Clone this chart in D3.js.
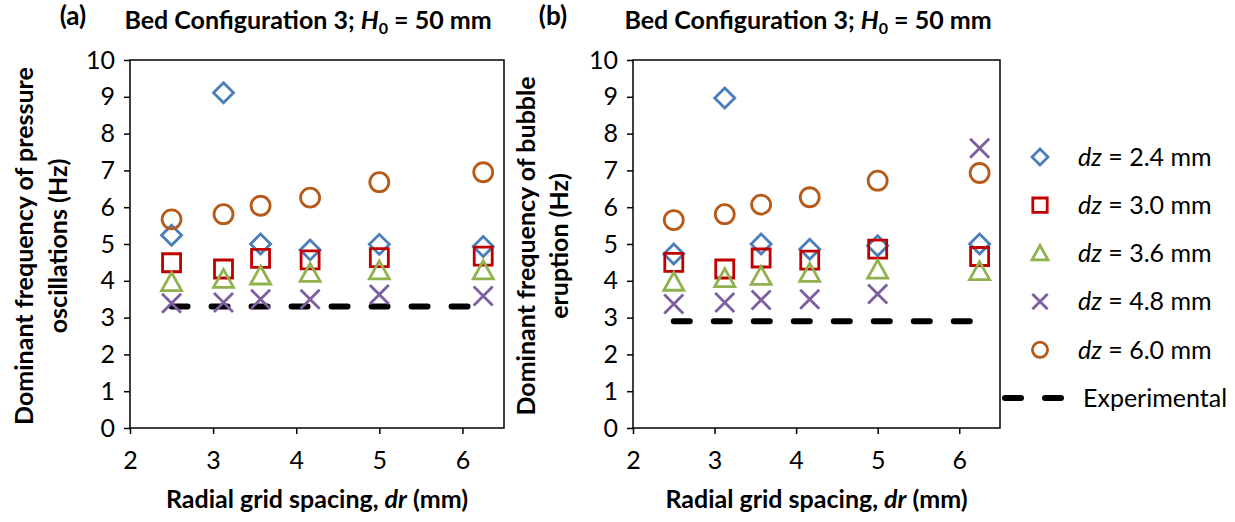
<!DOCTYPE html>
<html>
<head>
<meta charset="utf-8">
<script src="https://cdn.jsdelivr.net/npm/d3@7"></script>
<style>
    body { margin: 0; background: #fff; }
    svg text { font-family: Lato, "Open Sans", sans-serif; fill: #000; }
</style>
</head>
<body>
<div id="container"></div>
<script>
// Dominant frequency vs radial grid spacing, two panels + shared legend

const drValues = [2.5, 3.125, 3.571, 4.167, 5, 6.25]
const dzLabels = ["2.4", "3.0", "3.6", "4.8", "6.0"]

// (a) pressure oscillations
const pressDz24 = [5.24, 9.11, 5.0, 4.84, 4.99, 4.93]
const pressDz30 = [4.49, 4.32, 4.61, 4.57, 4.63, 4.67]
const pressDz36 = [3.95, 4.04, 4.13, 4.2, 4.27, 4.27]
const pressDz48 = [3.39, 3.41, 3.5, 3.5, 3.63, 3.59]
const pressDz60 = [5.67, 5.81, 6.04, 6.26, 6.68, 6.95]
const pressExperimental = 3.3

// (b) bubble eruption
const bubbleDz24 = [4.73, 8.97, 5.0, 4.86, 4.95, 5.0]
const bubbleDz30 = [4.5, 4.32, 4.62, 4.56, 4.86, 4.66]
const bubbleDz36 = [3.96, 4.06, 4.12, 4.2, 4.29, 4.25]
const bubbleDz48 = [3.37, 3.41, 3.48, 3.5, 3.64, 7.6]
const bubbleDz60 = [5.65, 5.81, 6.07, 6.27, 6.72, 6.93]
const bubbleExperimental = 2.9

const xTicks = [2, 3, 4, 5, 6]
const yTicks = [0, 1, 2, 3, 4, 5, 6, 7, 8, 9, 10]

const width = 1235,
    height = 522
const fs = 25

const svg = d3.select("#container")
    .append("svg")
    .attr("width", width)
    .attr("height", height)

// marker shapes (size = half width)
const diamond = { draw(c, r) { c.moveTo(0, -r); c.lineTo(r, 0); c.lineTo(0, r); c.lineTo(-r, 0); c.closePath() } }
const square = { draw(c, r) { c.rect(-r, -r, 2 * r, 2 * r) } }
const triangle = { draw(c, r) { c.moveTo(0, -r); c.lineTo(r, 0.8 * r); c.lineTo(-r, 0.8 * r); c.closePath() } }
const times = { draw(c, r) { c.moveTo(-r, -r); c.lineTo(r, r); c.moveTo(r, -r); c.lineTo(-r, r) } }
const circle = { draw(c, r) { c.moveTo(r, 0); c.arc(0, 0, r, 0, 2 * Math.PI) } }

const markers = [
    { shape: diamond, size: 10, color: "#4A7EBB" },
    { shape: square, size: 9, color: "#C00000" },
    { shape: triangle, size: 10, color: "#8FB24F" },
    { shape: times, size: 9.5, color: "#7D5FA0" },
    { shape: circle, size: 9.5, color: "#B65A18" },
]

const panels = [
    {
        letter: "(a)", letterX: 73, left: 130, right: 504, titleX: 308,
        yTitle: ["Dominant frequency of pressure", "oscillations (Hz)"], yTitleX: [33, 67],
        series: [pressDz24, pressDz30, pressDz36, pressDz48, pressDz60],
        experimental: pressExperimental,
    },
    {
        letter: "(b)", letterX: 553, left: 633, right: 1000, titleX: 808,
        yTitle: ["Dominant frequency of bubble", "eruption (Hz)"], yTitleX: [535, 568],
        series: [bubbleDz24, bubbleDz30, bubbleDz36, bubbleDz48, bubbleDz60],
        experimental: bubbleExperimental,
    },
]

const plotTop = 60, plotBottom = 428

const yScale = d3.scaleLinear().domain([0, 10]).range([plotBottom, plotTop])

panels.forEach(p => {
    const xScale = d3.scaleLinear().domain([2, 6.5]).range([p.left, p.right])
    const g = svg.append("g")

    // titles
    g.append("text")
        .attr("x", p.letterX).attr("y", 25)
        .attr("text-anchor", "middle")
        .attr("font-size", 26).attr("font-weight", "bold")
        .text(p.letter)
    const title = g.append("text")
        .attr("x", p.titleX).attr("y", 29)
        .attr("text-anchor", "middle")
        .attr("font-size", fs).attr("font-weight", "bold")
    title.append("tspan").text("Bed Configuration 3; ")
    title.append("tspan").attr("font-style", "italic").text("H")
    title.append("tspan").attr("font-size", 16).attr("dy", 5).text("0")
    title.append("tspan").attr("dy", -5).text(" = 50 mm")

    // plot box
    g.append("rect")
        .attr("x", p.left).attr("y", plotTop)
        .attr("width", p.right - p.left).attr("height", plotBottom - plotTop)
        .attr("fill", "none").attr("stroke", "#000").attr("stroke-width", 1.5)

    const yAxis = d3.axisLeft(yScale).tickValues(yTicks).tickSize(6).tickSizeOuter(0).tickPadding(9)
    const yg = g.append("g").attr("transform", `translate(${p.left},0)`).call(yAxis)
    yg.select(".domain").remove()
    yg.selectAll("line").attr("stroke-width", 1.5)
    yg.selectAll("text").attr("font-size", fs).style("font-family", "Lato, sans-serif").attr("fill", "#222")

    const xAxis = d3.axisBottom(xScale).tickValues(xTicks).tickFormat(d3.format("d"))
        .tickSize(6).tickSizeOuter(0).tickPadding(17)
    const xg = g.append("g").attr("transform", `translate(0,${plotBottom})`).call(xAxis)
    xg.select(".domain").remove()
    xg.selectAll("line").attr("stroke-width", 1.5)
    xg.selectAll("text").attr("font-size", fs).style("font-family", "Lato, sans-serif").attr("fill", "#222")

    // axis titles
    const xt = g.append("text")
        .attr("x", (p.left + p.right) / 2).attr("y", 508)
        .attr("text-anchor", "middle")
        .attr("font-size", fs).attr("font-weight", "bold")
    xt.append("tspan").text("Radial grid spacing, ")
    xt.append("tspan").attr("font-style", "italic").text("dr")
    xt.append("tspan").text(" (mm)")

    p.yTitle.forEach((line, i) => {
        g.append("text")
            .attr("transform", `translate(${p.yTitleX[i]},${(plotTop + plotBottom) / 2 + 2}) rotate(-90)`)
            .attr("text-anchor", "middle")
            .attr("font-size", fs).attr("font-weight", "bold")
            .text(line)
    })

    // experimental dashed line
    const [x0, x1] = d3.extent(drValues)
    g.append("path")
        .datum([x0, x1])
        .attr("d", d3.line().x(d => xScale(d)).y(() => yScale(p.experimental)))
        .attr("fill", "none").attr("stroke", "#000")
        .attr("stroke-width", 6).attr("stroke-linecap", "round")
        .attr("stroke-dasharray", "16,24")

    // markers
    p.series.forEach((vals, si) => {
        const m = markers[si]
        g.append("g")
            .selectAll("path")
            .data(vals.map((v, i) => ({ dr: drValues[i], f: v })))
            .enter()
            .append("path")
            .attr("transform", d => `translate(${xScale(d.dr)},${yScale(d.f)})`)
            .attr("d", d3.symbol().type(m.shape).size(m.size))
            .attr("fill", "none")
            .attr("stroke", m.color)
            .attr("stroke-width", 2.8)
    })
})

// legend
const legend = svg.append("g").attr("id", "legend")
const rowY = d3.scaleLinear().domain([0, 5]).range([157, 398])

dzLabels.forEach((lab, i) => {
    const m = markers[i]
    legend.append("path")
        .attr("transform", `translate(1040,${rowY(i)})`)
        .attr("d", d3.symbol().type(m.shape).size(m.size * 0.8))
        .attr("fill", "none").attr("stroke", m.color).attr("stroke-width", 2.8)
    const t = legend.append("text")
        .attr("x", 1078).attr("y", rowY(i)).attr("dy", "0.35em")
        .attr("font-size", fs)
    t.append("tspan").attr("font-style", "italic").text("dz")
    t.append("tspan").text(` = ${lab} mm`)
})

legend.append("line")
    .attr("x1", 1005).attr("x2", 1067)
    .attr("y1", rowY(5)).attr("y2", rowY(5))
    .attr("stroke", "#000").attr("stroke-width", 6)
    .attr("stroke-linecap", "round").attr("stroke-dasharray", "16,24")
legend.append("text")
    .attr("x", 1083).attr("y", rowY(5)).attr("dy", "0.35em")
    .attr("font-size", fs)
    .text("Experimental")
</script>
</body>
</html>
